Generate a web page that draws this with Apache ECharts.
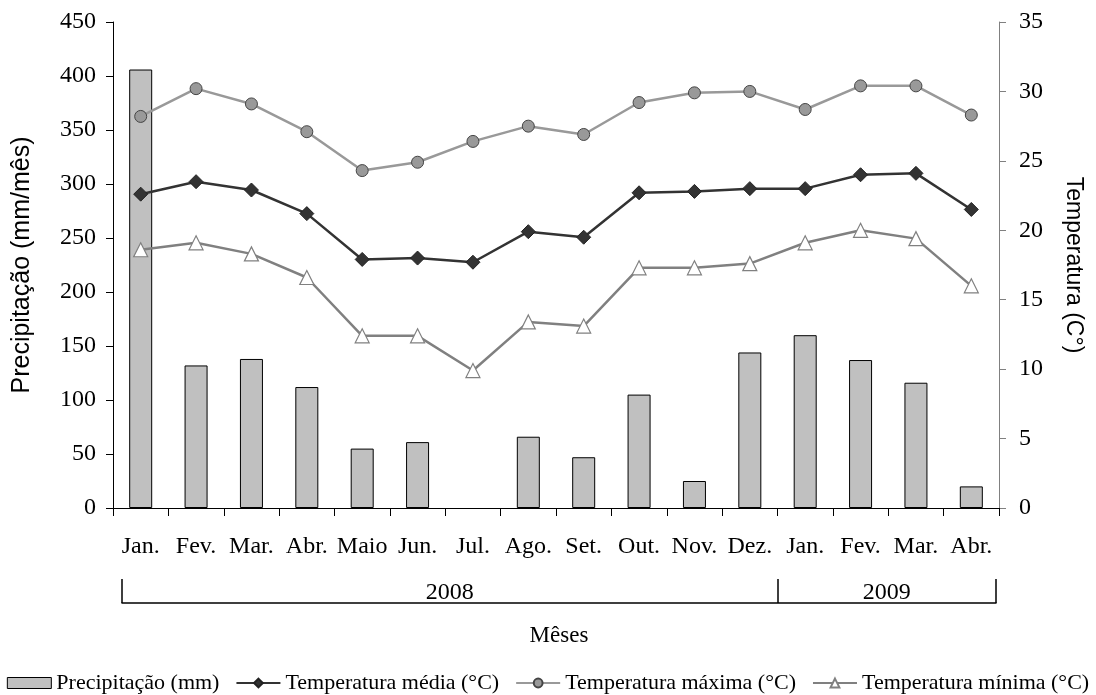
<!DOCTYPE html>
<html><head><meta charset="utf-8">
<script src="https://cdn.jsdelivr.net/npm/echarts@6/dist/echarts.min.js"></script>
<style>html,body{margin:0;padding:0;background:#fff}#c{width:1096px;height:695px}</style>
</head><body><div id="c"></div>
<script>
const months = ['Jan.','Fev.','Mar.','Abr.','Maio','Jun.','Jul.','Ago.','Set.','Out.','Nov.','Dez.','Jan.','Fev.','Mar.','Abr.'];
const precipitacao = [406,132,138,112,55,61,0,66,47,105,25,144,160,137,116,20];
const tempMedia = [22.6,23.5,22.9,21.2,17.9,18.0,17.7,19.9,19.5,22.7,22.8,23.0,23.0,24.0,24.1,21.5];
const tempMaxima = [28.2,30.2,29.1,27.1,24.3,24.9,26.4,27.5,26.9,29.2,29.9,30.0,28.7,30.4,30.4,28.3];
const tempMinima = [18.6,19.1,18.3,16.6,12.4,12.4,9.9,13.4,13.1,17.3,17.3,17.6,19.1,20.0,19.4,16.0];
const years = ['2008','2009'];
const yearBounds = [0,12,16];

const serif = 'Liberation Serif';
const sans = 'Liberation Sans';
const chart = echarts.init(document.getElementById('c'), null, {renderer:'canvas'});
chart.setOption({
  animation:false,
  backgroundColor:'#fff',
  grid:[
    {left:113,right:97,top:22,bottom:187},
    {left:122,right:100,top:560,bottom:92}
  ],
  legend:{
    top:667,left:'center',itemGap:16,itemWidth:44,itemHeight:11,
    textStyle:{fontFamily:serif,fontSize:22,color:'#000'},
    data:[
      {name:'Precipitação (mm)',icon:'rect',itemStyle:{color:'#c0c0c0',borderColor:'#000',borderWidth:1}},
      'Temperatura média (°C)','Temperatura máxima (°C)','Temperatura mínima (°C)']
  },
  xAxis:[{
    type:'category',data:months,boundaryGap:true,gridIndex:0,
    axisLine:{lineStyle:{color:'#000',width:1}},
    axisTick:{show:true,length:8,lineStyle:{color:'#000'}},
    axisLabel:{fontFamily:serif,fontSize:24,color:'#000',margin:27,interval:0}
  },{
    type:'value',gridIndex:1,min:yearBounds[0],max:yearBounds[2],position:'bottom',
    axisLine:{show:true,onZero:false,lineStyle:{color:'#000',width:1.5}},
    axisTick:{show:true,inside:true,length:24,customValues:yearBounds,lineStyle:{color:'#000',width:1.5}},
    axisLabel:{inside:true,margin:-2,fontFamily:serif,fontSize:24,color:'#000',
      customValues:[(yearBounds[0]+yearBounds[1])/2,(yearBounds[1]+yearBounds[2])/2],
      formatter:v=> v<yearBounds[1]?years[0]:years[1]},
    splitLine:{show:false},
    name:'Mêses',nameLocation:'middle',nameGap:21,
    nameTextStyle:{fontFamily:serif,fontSize:23,color:'#000'}
  }],
  yAxis:[{
    type:'value',gridIndex:0,min:0,max:450,interval:50,position:'left',
    axisLine:{show:true,lineStyle:{color:'#000'}},
    axisTick:{show:true,length:7,lineStyle:{color:'#000'}},
    axisLabel:{fontFamily:serif,fontSize:24,color:'#000',margin:17},
    splitLine:{show:false},
    name:'Precipitação (mm/mês)',nameLocation:'middle',nameGap:78,nameRotate:90,
    nameTextStyle:{fontFamily:sans,fontSize:25,color:'#000'}
  },{
    type:'value',gridIndex:0,min:0,max:35,interval:5,position:'right',
    axisLine:{show:true,lineStyle:{color:'#808080'}},
    axisTick:{show:true,length:7,lineStyle:{color:'#808080'}},
    axisLabel:{fontFamily:serif,fontSize:24,color:'#000',margin:20},
    splitLine:{show:false},
    name:'Temperatura (C°)',nameLocation:'middle',nameGap:63,nameRotate:-90,
    nameTextStyle:{fontFamily:sans,fontSize:23,color:'#000'}
  },{
    type:'value',gridIndex:1,show:false,min:0,max:1
  }],
  series:[{
    name:'Precipitação (mm)',type:'bar',barWidth:23,
    data:precipitacao.map(v=> v===0 ? {value:v,itemStyle:{borderWidth:0}} : v),
    itemStyle:{color:'#c0c0c0',borderColor:'#000',borderWidth:1}
  },{
    name:'Temperatura média (°C)',type:'line',yAxisIndex:1,data:tempMedia,
    symbol:'diamond',symbolSize:14,
    lineStyle:{color:'#333',width:2.5},
    itemStyle:{color:'#333',borderColor:'#222',borderWidth:1}
  },{
    name:'Temperatura máxima (°C)',type:'line',yAxisIndex:1,data:tempMaxima,
    symbol:'circle',symbolSize:12,
    lineStyle:{color:'#999',width:2.5},
    itemStyle:{color:'#999',borderColor:'#444',borderWidth:1}
  },{
    name:'Temperatura mínima (°C)',type:'line',yAxisIndex:1,data:tempMinima,
    symbol:'triangle',symbolSize:14,
    lineStyle:{color:'#808080',width:2.5},
    itemStyle:{color:'#fff',borderColor:'#808080',borderWidth:1.2}
  }]
});
</script></body></html>
